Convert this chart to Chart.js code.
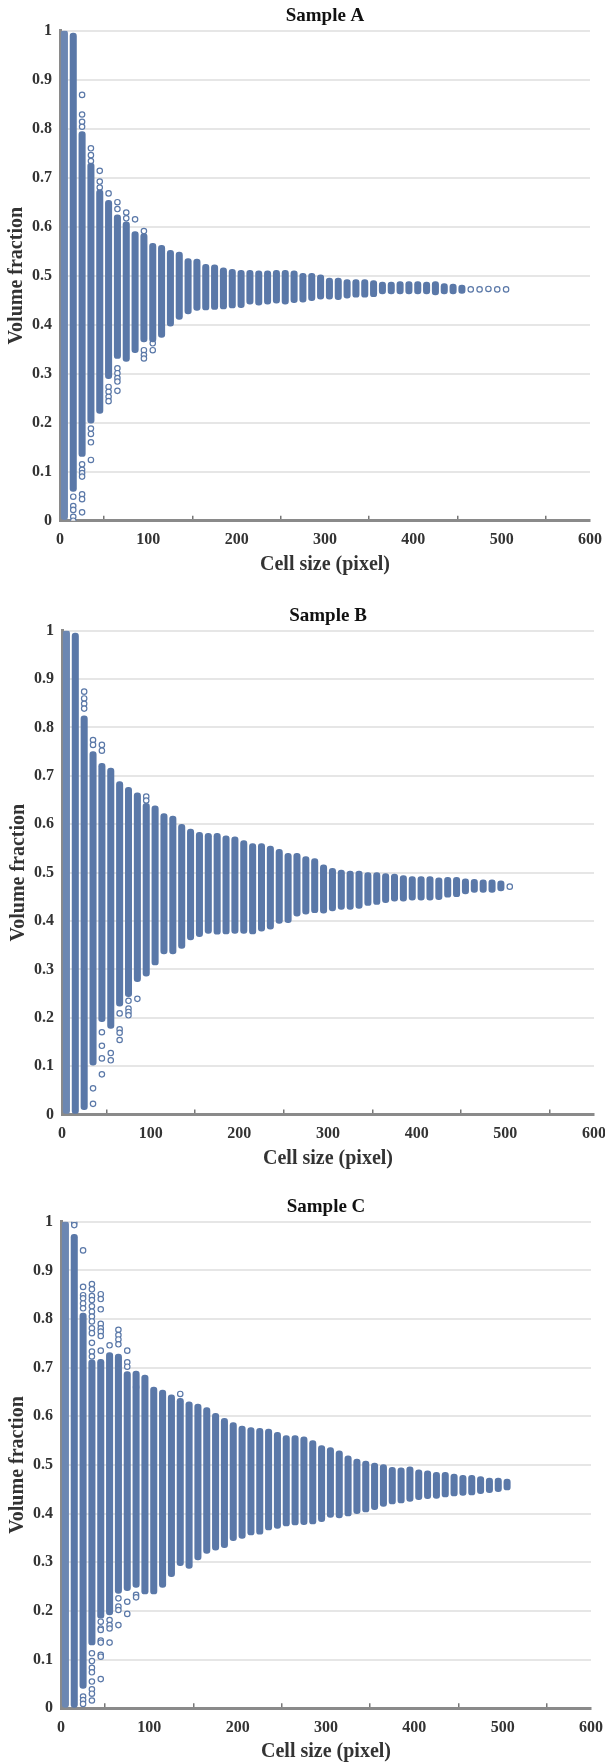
<!DOCTYPE html>
<html>
<head>
<meta charset="utf-8">
<title>Volume fraction vs cell size</title>
<script src="https://cdn.jsdelivr.net/npm/chart.js@4"></script>
<style>
  html, body { margin: 0; padding: 0; background: #fff; }
  body { position: relative; width: 605px; height: 1764px; overflow: hidden; }
  canvas { position: absolute; left: 0; filter: blur(0.45px); }
</style>
</head>
<body>
<canvas id="sampleA"></canvas>
<canvas id="sampleB"></canvas>
<canvas id="sampleC"></canvas>
<script>
// dados
const cellSizes = [5,15,25,35,45,55,65,75,85,95,105,115,125,135,145,155,165,175,185,195,205,215,225,235,245,255,265,275,285,295,305,315,325,335,345,355,365,375,385,395,405,415,425,435,445,455,465,475,485,495,505]
const xTicks = [0,100,200,300,400,500,600]
const yTicks = [0,0.1,0.2,0.3,0.4,0.5,0.6,0.7,0.8,0.9,1]

// topo e base de cada coluna densa (null = só círculos soltos)
const topA = [1,.995,.794,.73,.675,.654,.624,.61,.59,.586, .566,.562,.552,.548,.535,.534,.523,.522,.516,.513, .511,.511,.51,.51,.511,.511,.51,.505,.505,.502, .495,.495,.492,.492,.492,.49,.487,.487,.488,.488, .488,.487,.488,.484,.483,.481,null,null,null,null, null]
const bottomA = [0,.06,.131,.199,.219,.29,.331,.325,.343,.365, .365,.374,.397,.411,.422,.429,.43,.431,.432,.434, .435,.442,.44,.442,.444,.442,.445,.446,.449,.452, .452,.451,.454,.456,.456,.457,.463,.463,.463,.463, .463,.463,.461,.463,.463,.464,null,null,null,null, null]
const looseA = [[15,.049],[15,.03],[15,.022],[15,.008],[15,0],[25,.869],[25,.829],[25,.814],[25,.804],[25,.115],[25,.104],[25,.097],[25,.09],[25,.054],[25,.044],[25,.017],[35,.76],[35,.746],[35,.734],[35,.188],[35,.177],[35,.16],[35,.124],[45,.714],[45,.692],[45,.68],[55,.668],[55,.273],[55,.263],[55,.253],[55,.244],[65,.65],[65,.636],[65,.311],[65,.301],[65,.291],[65,.284],[65,.265],[75,.629],[75,.617],[85,.615],[95,.591],[95,.348],[95,.338],[95,.331],[105,.362],[105,.348],[465,.472],[475,.472],[485,.473],[495,.472],[505,.472]]

const topB = [1,.995,.824,.75,.726,.716,.688,.676,.665,.643, .638,.622,.617,.6,.59,.583,.581,.581,.576,.574, .566,.56,.56,.555,.548,.54,.54,.533,.529,.516, .509,.505,.503,.503,.5,.5,.498,.497,.494,.492, .492,.492,.489,.49,.49,.487,.486,.485,.485,.483, null]
const bottomB = [0,0,.01,.102,.192,.178,.224,.2435,.2745,.286, .309,.332,.332,.3435,.3607,.3675,.3745,.3725,.373,.3745, .3745,.373,.379,.383,.395,.3965,.41,.414,.417,.416, .421,.424,.424,.426,.432,.434,.438,.441,.441,.443, .443,.443,.444,.449,.45,.456,.459,.459,.459,.462, null]
const looseB = [[25,.874],[25,.86],[25,.849],[25,.839],[35,.774],[35,.764],[35,.054],[35,.022],[45,.764],[45,.752],[45,.17],[45,.142],[45,.116],[45,.083],[55,.127],[55,.112],[65,.209],[65,.176],[65,.169],[65,.154],[75,.235],[75,.219],[75,.212],[75,.205],[85,.239],[95,.657],[95,.649],[505,.471]]

const topC = [1,.974,.812,.716,.717,.731,.728,.692,.693,.685, .66,.654,.644,.637,.63,.625,.618,.606,.596,.587, .58,.577,.5755,.574,.567,.5605,.5605,.558,.55,.54, .536,.529,.519,.512,.508,.504,.501,.495,.494,.496, .49,.488,.485,.485,.4815,.479,.479,.476,.473,.473, .471]
const bottomC = [0,0,.041,.13,.185,.192,.2363,.2417,.2486,.2349, .2349,.2486,.2705,.2931,.2877,.305,.3185,.325,.3301,.3445, .3493,.3561,.3576,.3664,.3698,.3746,.3767,.3774,.3787,.3835, .3924,.3911,.3952,.4,.4034,.4082,.415,.4198,.4219,.4253, .4287,.4308,.4315,.4342,.4363,.4376,.4383,.4411,.4431,.4452, .4486]
const looseC = [[15,.998],[15,.993],[25,.941],[25,.866],[25,.849],[25,.8425],[25,.832],[25,.822],[25,.024],[25,.017],[25,.009],[35,.872],[35,.861],[35,.847],[35,.839],[35,.826],[35,.815],[35,.805],[35,.795],[35,.781],[35,.771],[35,.751],[35,.733],[35,.723],[35,.113],[35,.097],[35,.083],[35,.074],[35,.055],[35,.039],[35,.03],[35,.016],[45,.851],[45,.841],[45,.82],[45,.79],[45,.781],[45,.774],[45,.765],[45,.735],[45,.178],[45,.164],[45,.161],[45,.139],[45,.135],[45,.11],[45,.106],[45,.06],[55,.746],[55,.1815],[55,.171],[55,.164],[55,.135],[65,.778],[65,.767],[65,.758],[65,.748],[65,.226],[65,.209],[65,.202],[65,.171],[75,.735],[75,.711],[75,.702],[75,.219],[75,.194],[85,.66],[85,.233],[85,.228],[135,.646]]

// posição de cada gráfico na página (px)
const layoutA = {top: 0, height: 590, left: 60, right: 590, plotTop: 30.7, plotBottom: 520.7}
const layoutB = {top: 600, height: 590, left: 62, right: 594, plotTop: 630.7, plotBottom: 1114.5}
const layoutC = {top: 1190, height: 580, left: 61, right: 591, plotTop: 1221.7, plotBottom: 1708.3}

const blue = '#5a78a8'
const blueFirst = '#6c87b2'
const serif = '"Liberation Serif", serif'
const xAxisHeight = 56

function criaGrafico(id, titulo, tops, bottoms, loose, box) {
    const canvas = document.getElementById(id)
    canvas.style.top = box.top + 'px'
    canvas.style.width = '605px'
    canvas.style.height = box.height + 'px'
    canvas.width = 605
    canvas.height = box.height

    const colunas = []
    cellSizes.forEach((size, i) => {
        if (tops[i] !== null) colunas.push({x: size, y: [bottoms[i], tops[i]]})
    })
    const soltos = loose.map(p => ({x: p[0], y: p[1]}))

    const titleLine = 23
    const plotTop = box.plotTop - box.top

    new Chart(canvas, {
        type: 'bar',
        data: {
            datasets: [
                {
                    type: 'bar',
                    data: colunas,
                    backgroundColor: ctx => ctx.dataIndex === 0 ? blueFirst : blue,
                    barThickness: 6.4,
                    borderRadius: 3.2,
                    borderSkipped: false
                },
                {
                    type: 'scatter',
                    data: soltos,
                    pointStyle: 'circle',
                    pointRadius: 2.7,
                    pointBorderWidth: 1.2,
                    pointBorderColor: blue,
                    pointBackgroundColor: 'rgba(255,255,255,0.9)'
                }
            ]
        },
        options: {
            responsive: false,
            animation: false,
            layout: {
                padding: {
                    left: 0,
                    right: 605 - box.right,
                    top: 0,
                    bottom: box.top + box.height - box.plotBottom - xAxisHeight
                }
            },
            plugins: {
                legend: {display: false},
                tooltip: {enabled: false},
                title: {
                    display: true,
                    text: titulo,
                    fullSize: false,
                    color: '#111',
                    font: {family: serif, size: 19, weight: 'bold', lineHeight: titleLine / 19},
                    padding: {top: plotTop - titleLine - 3, bottom: 3}
                }
            },
            scales: {
                x: {
                    type: 'linear',
                    offset: false,
                    min: 0,
                    max: 600,
                    afterBuildTicks: scale => { scale.ticks = xTicks.map(v => ({value: v})) },
                    afterFit: scale => {
                        scale.height = xAxisHeight
                        // o rótulo 600 não deve encolher a área do gráfico
                        scale.paddingLeft = 0
                        scale.paddingRight = 0
                    },
                    border: {color: '#8a8a8a', width: 3},
                    grid: {drawOnChartArea: false, tickLength: -5, color: '#777', lineWidth: 1.5},
                    ticks: {color: '#333', maxRotation: 0, padding: 15, font: {family: serif, size: 16, weight: 'bold'}, callback: v => String(v)},
                    title: {
                        display: true,
                        text: 'Cell size (pixel)',
                        color: '#333',
                        padding: {top: 0, bottom: 0},
                        font: {family: serif, size: 20, weight: 'bold'}
                    }
                },
                y: {
                    min: 0,
                    max: 1,
                    afterBuildTicks: scale => { scale.ticks = yTicks.map(v => ({value: v})) },
                    afterFit: scale => { scale.width = box.left },
                    border: {color: '#8a8a8a', width: 3},
                    grid: {color: '#e6e6e6', lineWidth: 2, drawTicks: false},
                    ticks: {color: '#333', padding: 8, font: {family: serif, size: 16, weight: 'bold'}, callback: v => String(v)},
                    title: {
                        display: true,
                        text: 'Volume fraction',
                        color: '#333',
                        padding: {top: box.left - 55, bottom: 0},
                        font: {family: serif, size: 20, weight: 'bold'}
                    }
                }
            }
        }
    })
}

criaGrafico('sampleA', 'Sample A', topA, bottomA, looseA, layoutA)
criaGrafico('sampleB', 'Sample B', topB, bottomB, looseB, layoutB)
criaGrafico('sampleC', 'Sample C', topC, bottomC, looseC, layoutC)
</script>
</body>
</html>
